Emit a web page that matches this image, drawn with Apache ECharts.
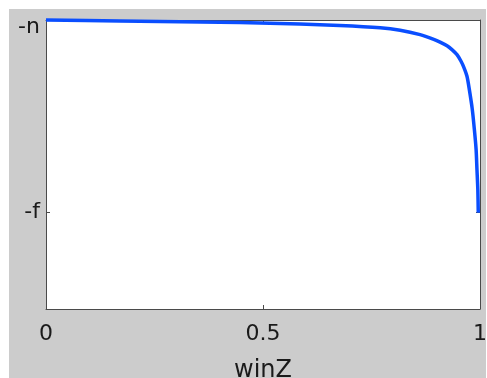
<!DOCTYPE html>
<html>
<head>
<meta charset="utf-8">
<script src="https://cdn.jsdelivr.net/npm/echarts@6/dist/echarts.min.js"></script>
<style>
html,body{margin:0;padding:0;background:#fff;width:487px;height:378px;overflow:hidden;}
#chart{position:absolute;left:9px;top:9px;width:477px;height:369px;background:#cccccc;}
</style>
</head>
<body>
<div id="chart"></div>
<script>
// winZ values (x) and normalized eye depth (0 = -n, 1 = -f)
var winZ  = [0, 0.17, 0.355, 0.447, 0.585, 0.677, 0.77, 0.816, 0.862, 0.892, 0.908, 0.924, 0.936, 0.947, 0.956, 0.963, 0.970, 0.975, 0.982, 0.987, 0.991, 0.993, 0.995, 0.996];
var depth = [0, 0.005, 0.010, 0.013, 0.021, 0.028, 0.040, 0.053, 0.076, 0.099, 0.115, 0.134, 0.155, 0.180, 0.213, 0.247, 0.292, 0.355, 0.460, 0.568, 0.672, 0.776, 0.880, 1.0];
var xTickLabels = {0: '0', 0.5: '0.5', 1: '1'};
var yTickLabels = {0: '{top|-n}', 1: '-f'};

var chart = echarts.init(document.getElementById('chart'), null, {renderer: 'canvas'});
var axisColor = '#4a4a4a';
var font = 'DejaVu Sans';
var data = winZ.map(function (w, i) { return [w, depth[i]]; });

chart.setOption({
  backgroundColor: 'transparent',
  animation: false,
  grid: {left: 37, top: 11, right: 6, bottom: 69, show: true, backgroundColor: '#ffffff', borderWidth: 0,
    containLabel: false, outerBoundsMode: 'none'},
  xAxis: [{
    type: 'value', min: 0, max: 1, interval: 0.5, position: 'bottom',
    name: 'winZ', nameLocation: 'middle', nameGap: 50,
    nameTextStyle: {fontFamily: font, fontSize: 24, color: '#1a1a1a'},
    axisLine: {show: true, onZero: false, lineStyle: {color: axisColor, width: 1}},
    axisTick: {show: true, inside: true, length: 4, lineStyle: {color: axisColor}},
    axisLabel: {margin: 14, fontFamily: font, fontSize: 22, color: '#1a1a1a',
      formatter: function (v) { return xTickLabels[v] !== undefined ? xTickLabels[v] : ''; }},
    splitLine: {show: false}
  }, {
    type: 'value', min: 0, max: 1, interval: 0.5, position: 'top',
    axisLine: {show: true, onZero: false, lineStyle: {color: axisColor, width: 1}},
    axisTick: {show: true, inside: true, length: 4, lineStyle: {color: axisColor}},
    axisLabel: {show: false}, splitLine: {show: false}
  }],
  yAxis: [{
    type: 'value', min: 0, max: 1.5, interval: 1, inverse: true, position: 'left',
    axisLine: {show: true, onZero: false, lineStyle: {color: axisColor, width: 1}},
    axisTick: {show: true, inside: true, length: 4, lineStyle: {color: axisColor}},
    axisLabel: {margin: 6, fontFamily: font, fontSize: 22, color: '#1a1a1a', showMaxLabel: false,
      rich: {top: {fontFamily: font, fontSize: 22, color: '#1a1a1a', padding: [14, 0, 0, 0]}},
      formatter: function (v) { return yTickLabels[v] !== undefined ? yTickLabels[v] : ''; }},
    splitLine: {show: false}
  }, {
    type: 'value', min: 0, max: 1.5, interval: 1, inverse: true, position: 'right',
    axisLine: {show: true, onZero: false, lineStyle: {color: axisColor, width: 1}},
    axisTick: {show: true, inside: true, length: 4, lineStyle: {color: axisColor}},
    axisLabel: {show: false}, splitLine: {show: false}
  }],
  series: [{
    type: 'line', xAxisIndex: 0, yAxisIndex: 0, data: data,
    showSymbol: false, smooth: 0.25, clip: false,
    lineStyle: {color: '#0a4eff', width: 3.5}
  }]
});
</script>
</body>
</html>
